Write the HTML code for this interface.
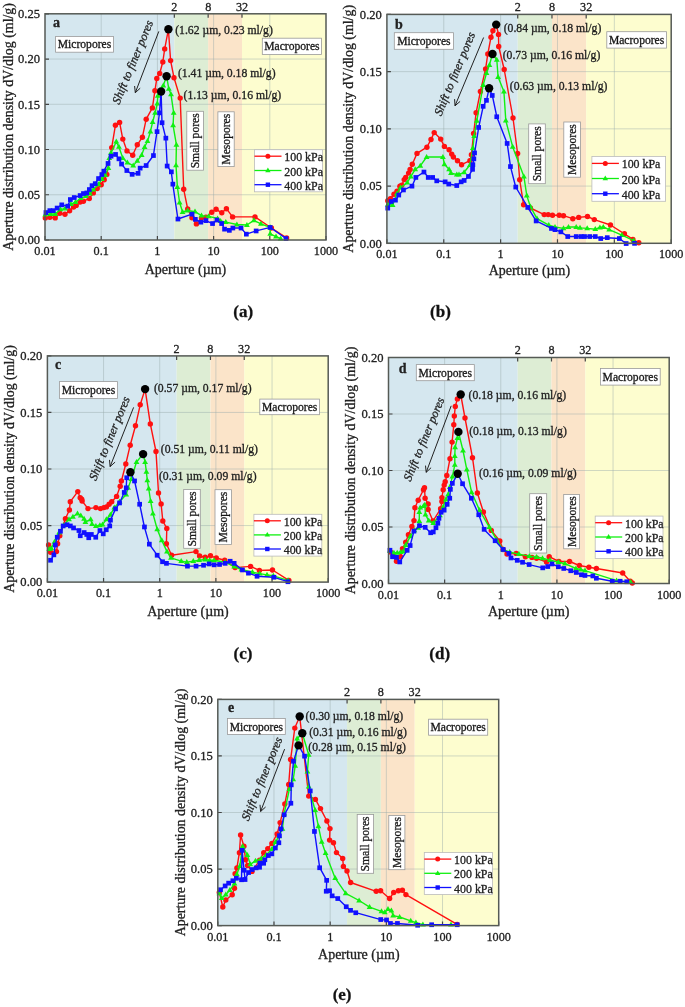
<!DOCTYPE html>
<html><head><meta charset="utf-8"><style>
html,body{margin:0;padding:0;background:#fff;}
svg{display:block;font-family:"Liberation Serif", serif;filter:blur(0.5px);}
text{stroke:#222;stroke-width:0.3px;}
</style></head><body>
<svg width="685" height="1007" viewBox="0 0 685 1007">
<rect x="45.00" y="13.8" width="129.32" height="226.2" fill="#d5e7ef"/>
<rect x="174.32" y="13.8" width="33.84" height="226.2" fill="#ddedd4"/>
<rect x="208.15" y="13.8" width="33.84" height="226.2" fill="#fbe4c9"/>
<rect x="241.99" y="13.8" width="84.01" height="226.2" fill="#fdfdcf"/>
<path d="M101.20,13.8V240.0M157.40,13.8V240.0M213.60,13.8V240.0M269.80,13.8V240.0M45.0,194.76H326.0M45.0,149.52H326.0M45.0,104.28H326.0M45.0,59.04H326.0" stroke="#9aa" stroke-opacity="0.45" stroke-width="1" fill="none"/>
<path d="M45.0,240.00h4M45.0,194.76h4M45.0,149.52h4M45.0,104.28h4M45.0,59.04h4M45.0,13.80h4M45.00,240.0v-4M101.20,240.0v-4M157.40,240.0v-4M213.60,240.0v-4M269.80,240.0v-4M326.00,240.0v-4M174.32,13.8v4M208.15,13.8v4M241.99,13.8v4" stroke="#444" stroke-width="1.2" fill="none"/>
<path d="M45.3,217.9 L49.9,217.2 L55.2,217.9 L59.8,213.3 L65.0,214.3 L69.6,210.7 L73.6,207.0 L76.2,205.4 L80.1,202.1 L83.4,201.2 L89.3,198.6 L93.3,192.9 L97.2,188.6 L101.2,184.7 L104.2,179.8 L106.8,174.5 L111.7,147.6 L115.4,125.3 L119.6,122.4 L122.8,139.1 L127.0,150.9 L132.7,155.2 L137.3,144.8 L142.4,137.2 L146.2,119.2 L152.4,107.9 L154.9,90.8 L156.8,78.4 L159.7,73.5 L162.8,62.0 L164.7,48.9 L168.4,29.3 L170.6,60.6 L174.0,77.7 L180.2,98.1 L183.7,189.3 L187.7,209.0 L192.0,217.8 L196.4,223.9 L201.5,218.1 L205.9,217.1 L211.8,212.3 L216.1,209.3 L221.8,212.8 L226.4,208.7 L232.6,216.9 L255.0,216.9 L271.4,228.0 L286.6,237.9" stroke="#ff1010" stroke-width="1.4" fill="none" stroke-linejoin="round"/>
<g fill="#ff1010"><circle cx="45.3" cy="217.9" r="2.7"/><circle cx="49.9" cy="217.2" r="2.7"/><circle cx="55.2" cy="217.9" r="2.7"/><circle cx="59.8" cy="213.3" r="2.7"/><circle cx="65.0" cy="214.3" r="2.7"/><circle cx="69.6" cy="210.7" r="2.7"/><circle cx="73.6" cy="207.0" r="2.7"/><circle cx="76.2" cy="205.4" r="2.7"/><circle cx="80.1" cy="202.1" r="2.7"/><circle cx="83.4" cy="201.2" r="2.7"/><circle cx="89.3" cy="198.6" r="2.7"/><circle cx="93.3" cy="192.9" r="2.7"/><circle cx="97.2" cy="188.6" r="2.7"/><circle cx="101.2" cy="184.7" r="2.7"/><circle cx="104.2" cy="179.8" r="2.7"/><circle cx="106.8" cy="174.5" r="2.7"/><circle cx="111.7" cy="147.6" r="2.7"/><circle cx="115.4" cy="125.3" r="2.7"/><circle cx="119.6" cy="122.4" r="2.7"/><circle cx="122.8" cy="139.1" r="2.7"/><circle cx="127.0" cy="150.9" r="2.7"/><circle cx="132.7" cy="155.2" r="2.7"/><circle cx="137.3" cy="144.8" r="2.7"/><circle cx="142.4" cy="137.2" r="2.7"/><circle cx="146.2" cy="119.2" r="2.7"/><circle cx="152.4" cy="107.9" r="2.7"/><circle cx="154.9" cy="90.8" r="2.7"/><circle cx="156.8" cy="78.4" r="2.7"/><circle cx="159.7" cy="73.5" r="2.7"/><circle cx="162.8" cy="62.0" r="2.7"/><circle cx="164.7" cy="48.9" r="2.7"/><circle cx="168.4" cy="29.3" r="2.7"/><circle cx="170.6" cy="60.6" r="2.7"/><circle cx="174.0" cy="77.7" r="2.7"/><circle cx="180.2" cy="98.1" r="2.7"/><circle cx="183.7" cy="189.3" r="2.7"/><circle cx="187.7" cy="209.0" r="2.7"/><circle cx="192.0" cy="217.8" r="2.7"/><circle cx="196.4" cy="223.9" r="2.7"/><circle cx="201.5" cy="218.1" r="2.7"/><circle cx="205.9" cy="217.1" r="2.7"/><circle cx="211.8" cy="212.3" r="2.7"/><circle cx="216.1" cy="209.3" r="2.7"/><circle cx="221.8" cy="212.8" r="2.7"/><circle cx="226.4" cy="208.7" r="2.7"/><circle cx="232.6" cy="216.9" r="2.7"/><circle cx="255.0" cy="216.9" r="2.7"/><circle cx="271.4" cy="228.0" r="2.7"/><circle cx="286.6" cy="237.9" r="2.7"/></g>
<path d="M45.3,214.6 L50.6,214.0 L55.2,214.0 L60.4,209.4 L65.0,208.7 L70.9,204.1 L75.5,202.1 L80.8,198.2 L86.0,196.2 L90.0,193.6 L93.3,189.6 L98.5,184.4 L101.8,179.1 L105.1,175.2 L108.4,168.0 L109.3,158.1 L111.0,152.9 L116.3,141.7 L118.9,146.9 L122.8,158.1 L127.4,162.7 L133.2,165.6 L137.3,160.9 L141.7,155.0 L144.6,147.0 L147.5,141.2 L150.4,131.7 L152.6,122.2 L155.1,112.8 L157.3,103.5 L157.8,95.9 L163.3,85.5 L166.6,76.2 L168.8,88.8 L171.0,94.3 L173.7,112.8 L173.1,125.4 L176.4,144.8 L176.0,165.3 L177.4,187.2 L179.6,202.5 L182.6,212.0 L187.7,210.5 L195.0,211.7 L201.5,215.6 L208.8,216.4 L217.6,218.5 L220.6,221.0 L225.8,222.1 L236.9,224.5 L246.9,225.0 L253.9,220.4 L260.9,223.9 L270.2,227.4 L270.2,233.8 L276.0,236.7 L280.7,238.5" stroke="#10f010" stroke-width="1.4" fill="none" stroke-linejoin="round"/>
<g fill="#10f010"><path d="M45.3,211.5l2.9,5h-5.8z"/><path d="M50.6,210.9l2.9,5h-5.8z"/><path d="M55.2,210.9l2.9,5h-5.8z"/><path d="M60.4,206.3l2.9,5h-5.8z"/><path d="M65.0,205.6l2.9,5h-5.8z"/><path d="M70.9,201.0l2.9,5h-5.8z"/><path d="M75.5,199.0l2.9,5h-5.8z"/><path d="M80.8,195.1l2.9,5h-5.8z"/><path d="M86.0,193.1l2.9,5h-5.8z"/><path d="M90.0,190.5l2.9,5h-5.8z"/><path d="M93.3,186.5l2.9,5h-5.8z"/><path d="M98.5,181.3l2.9,5h-5.8z"/><path d="M101.8,176.0l2.9,5h-5.8z"/><path d="M105.1,172.1l2.9,5h-5.8z"/><path d="M108.4,164.9l2.9,5h-5.8z"/><path d="M109.3,155.0l2.9,5h-5.8z"/><path d="M111.0,149.8l2.9,5h-5.8z"/><path d="M116.3,138.6l2.9,5h-5.8z"/><path d="M118.9,143.8l2.9,5h-5.8z"/><path d="M122.8,155.0l2.9,5h-5.8z"/><path d="M127.4,159.6l2.9,5h-5.8z"/><path d="M133.2,162.5l2.9,5h-5.8z"/><path d="M137.3,157.8l2.9,5h-5.8z"/><path d="M141.7,151.9l2.9,5h-5.8z"/><path d="M144.6,143.9l2.9,5h-5.8z"/><path d="M147.5,138.1l2.9,5h-5.8z"/><path d="M150.4,128.6l2.9,5h-5.8z"/><path d="M152.6,119.1l2.9,5h-5.8z"/><path d="M155.1,109.7l2.9,5h-5.8z"/><path d="M157.3,100.4l2.9,5h-5.8z"/><path d="M157.8,92.8l2.9,5h-5.8z"/><path d="M163.3,82.4l2.9,5h-5.8z"/><path d="M166.6,73.1l2.9,5h-5.8z"/><path d="M168.8,85.7l2.9,5h-5.8z"/><path d="M171.0,91.2l2.9,5h-5.8z"/><path d="M173.7,109.7l2.9,5h-5.8z"/><path d="M173.1,122.3l2.9,5h-5.8z"/><path d="M176.4,141.7l2.9,5h-5.8z"/><path d="M176.0,162.2l2.9,5h-5.8z"/><path d="M177.4,184.1l2.9,5h-5.8z"/><path d="M179.6,199.4l2.9,5h-5.8z"/><path d="M182.6,208.9l2.9,5h-5.8z"/><path d="M187.7,207.4l2.9,5h-5.8z"/><path d="M195.0,208.6l2.9,5h-5.8z"/><path d="M201.5,212.5l2.9,5h-5.8z"/><path d="M208.8,213.3l2.9,5h-5.8z"/><path d="M217.6,215.4l2.9,5h-5.8z"/><path d="M220.6,217.9l2.9,5h-5.8z"/><path d="M225.8,219.0l2.9,5h-5.8z"/><path d="M236.9,221.4l2.9,5h-5.8z"/><path d="M246.9,221.9l2.9,5h-5.8z"/><path d="M253.9,217.3l2.9,5h-5.8z"/><path d="M260.9,220.8l2.9,5h-5.8z"/><path d="M270.2,224.3l2.9,5h-5.8z"/><path d="M270.2,230.7l2.9,5h-5.8z"/><path d="M276.0,233.6l2.9,5h-5.8z"/><path d="M280.7,235.4l2.9,5h-5.8z"/></g>
<path d="M46.0,212.6 L49.9,210.7 L53.2,210.7 L57.1,208.0 L61.7,204.8 L67.7,206.1 L70.3,199.5 L74.2,197.5 L80.1,195.6 L83.4,193.6 L86.7,192.9 L89.3,189.6 L92.0,185.7 L95.2,183.7 L98.5,178.5 L101.8,174.5 L103.8,171.2 L108.0,163.4 L111.0,156.1 L115.6,154.4 L118.9,158.8 L121.5,164.0 L126.8,170.6 L132.2,174.3 L138.0,173.3 L140.2,168.2 L146.1,165.5 L153.4,155.5 L157.0,131.7 L159.5,112.8 L161.1,91.5 L162.0,122.7 L165.8,138.2 L167.2,166.0 L171.3,171.8 L172.8,184.2 L177.9,219.0 L192.0,214.2 L195.3,219.3 L200.8,222.2 L205.9,220.7 L212.5,223.6 L216.9,220.0 L221.7,223.6 L224.6,229.2 L229.3,230.3 L232.8,228.0 L241.0,228.0 L246.3,234.1 L256.2,230.9 L270.2,227.4 L286.0,238.5" stroke="#1010ff" stroke-width="1.4" fill="none" stroke-linejoin="round"/>
<g fill="#1010ff"><rect x="43.6" y="210.2" width="4.7" height="4.7"/><rect x="47.5" y="208.3" width="4.7" height="4.7"/><rect x="50.9" y="208.3" width="4.7" height="4.7"/><rect x="54.8" y="205.7" width="4.7" height="4.7"/><rect x="59.4" y="202.5" width="4.7" height="4.7"/><rect x="65.4" y="203.8" width="4.7" height="4.7"/><rect x="68.0" y="197.2" width="4.7" height="4.7"/><rect x="71.9" y="195.2" width="4.7" height="4.7"/><rect x="77.8" y="193.2" width="4.7" height="4.7"/><rect x="81.1" y="191.2" width="4.7" height="4.7"/><rect x="84.4" y="190.6" width="4.7" height="4.7"/><rect x="87.0" y="187.2" width="4.7" height="4.7"/><rect x="89.7" y="183.3" width="4.7" height="4.7"/><rect x="92.9" y="181.3" width="4.7" height="4.7"/><rect x="96.2" y="176.2" width="4.7" height="4.7"/><rect x="99.5" y="172.2" width="4.7" height="4.7"/><rect x="101.5" y="168.8" width="4.7" height="4.7"/><rect x="105.7" y="161.1" width="4.7" height="4.7"/><rect x="108.7" y="153.8" width="4.7" height="4.7"/><rect x="113.2" y="152.1" width="4.7" height="4.7"/><rect x="116.6" y="156.5" width="4.7" height="4.7"/><rect x="119.2" y="161.7" width="4.7" height="4.7"/><rect x="124.5" y="168.2" width="4.7" height="4.7"/><rect x="129.8" y="172.0" width="4.7" height="4.7"/><rect x="135.7" y="171.0" width="4.7" height="4.7"/><rect x="137.8" y="165.8" width="4.7" height="4.7"/><rect x="143.8" y="163.2" width="4.7" height="4.7"/><rect x="151.1" y="153.2" width="4.7" height="4.7"/><rect x="154.7" y="129.3" width="4.7" height="4.7"/><rect x="157.2" y="110.5" width="4.7" height="4.7"/><rect x="158.8" y="89.2" width="4.7" height="4.7"/><rect x="159.7" y="120.4" width="4.7" height="4.7"/><rect x="163.5" y="135.8" width="4.7" height="4.7"/><rect x="164.8" y="163.7" width="4.7" height="4.7"/><rect x="169.0" y="169.5" width="4.7" height="4.7"/><rect x="170.5" y="181.8" width="4.7" height="4.7"/><rect x="175.6" y="216.7" width="4.7" height="4.7"/><rect x="189.7" y="211.8" width="4.7" height="4.7"/><rect x="193.0" y="217.0" width="4.7" height="4.7"/><rect x="198.5" y="219.8" width="4.7" height="4.7"/><rect x="203.6" y="218.3" width="4.7" height="4.7"/><rect x="210.2" y="221.2" width="4.7" height="4.7"/><rect x="214.6" y="217.7" width="4.7" height="4.7"/><rect x="219.3" y="221.2" width="4.7" height="4.7"/><rect x="222.2" y="226.8" width="4.7" height="4.7"/><rect x="227.0" y="228.0" width="4.7" height="4.7"/><rect x="230.5" y="225.7" width="4.7" height="4.7"/><rect x="238.7" y="225.7" width="4.7" height="4.7"/><rect x="244.0" y="231.8" width="4.7" height="4.7"/><rect x="253.8" y="228.6" width="4.7" height="4.7"/><rect x="267.8" y="225.1" width="4.7" height="4.7"/><rect x="283.6" y="236.2" width="4.7" height="4.7"/></g>
<rect x="45.0" y="13.8" width="281.0" height="226.2" fill="none" stroke="#555a55" stroke-width="1.5"/>
<circle cx="168.4" cy="29.3" r="4.2" fill="#000"/>
<circle cx="166.6" cy="76.2" r="4.2" fill="#000"/>
<circle cx="161.1" cy="91.5" r="4.2" fill="#000"/>
<text x="175.2" y="33.9" font-size="11.7" fill="#222">(1.62 µm, 0.23 ml/g)</text>
<text x="177.9" y="76.9" font-size="11.7" fill="#222">(1.41 µm, 0.18 ml/g)</text>
<text x="183.6" y="98.8" font-size="11.7" fill="#222">(1.13 µm, 0.16 ml/g)</text>
<rect x="55.6" y="36.4" width="57.8" height="15.8" fill="#fff" stroke="#999" stroke-width="0.8"/>
<text x="84.5" y="48.3" text-anchor="middle" font-size="11.6" fill="#111">Micropores</text>
<rect x="262.3" y="38.2" width="59.1" height="16.3" fill="#fff" stroke="#999" stroke-width="0.8"/>
<text x="291.9" y="50.4" text-anchor="middle" font-size="11.6" fill="#111">Macropores</text>
<rect x="186.8" y="111.3" width="16.6" height="58.9" fill="#fff" stroke="#999" stroke-width="0.8"/>
<text x="0" y="0" transform="translate(199.1,140.8) rotate(-90)" text-anchor="middle" font-size="11.6" fill="#111">Small pores</text>
<rect x="217.9" y="111.8" width="16.3" height="54.8" fill="#fff" stroke="#999" stroke-width="0.8"/>
<text x="0" y="0" transform="translate(230.1,139.2) rotate(-90)" text-anchor="middle" font-size="11.6" fill="#111">Mesopores</text>
<rect x="254.5" y="149.7" width="68" height="42.1" fill="#fff" stroke="#bbb" stroke-width="0.8"/>
<path d="M254.5,156.2H281.5" stroke="#ff1010" stroke-width="1.3"/>
<circle cx="267.9" cy="156.2" r="2.5" fill="#ff1010"/>
<text x="284.3" y="161.2" font-size="11.9" fill="#222">100 kPa</text>
<path d="M254.5,170.5H281.5" stroke="#10f010" stroke-width="1.3"/>
<path d="M267.9,167.6l2.7,4.6h-5.4z" fill="#10f010"/>
<text x="284.3" y="175.5" font-size="11.9" fill="#222">200 kPa</text>
<path d="M254.5,184.7H281.5" stroke="#1010ff" stroke-width="1.3"/>
<rect x="265.7" y="182.5" width="4.4" height="4.4" fill="#1010ff"/>
<text x="284.3" y="189.7" font-size="11.9" fill="#222">400 kPa</text>
<path d="M158.8,31.4L135.3,92.7M140.2,88.2L135.3,92.7L134.6,86.0" stroke="#222" stroke-width="1" fill="none"/>
<text x="0" y="0" transform="translate(136.3,63.7) rotate(-67.5)" text-anchor="middle" font-size="12" font-style="italic" fill="#222">Shift to finer pores</text>
<text x="52.9" y="26.8" font-size="14" font-weight="bold" fill="#222">a</text>
<text x="40.0" y="244.3" text-anchor="end" font-size="12.6" fill="#222">0.00</text>
<text x="40.0" y="199.1" text-anchor="end" font-size="12.6" fill="#222">0.05</text>
<text x="40.0" y="153.8" text-anchor="end" font-size="12.6" fill="#222">0.10</text>
<text x="40.0" y="108.6" text-anchor="end" font-size="12.6" fill="#222">0.15</text>
<text x="40.0" y="63.3" text-anchor="end" font-size="12.6" fill="#222">0.20</text>
<text x="40.0" y="18.1" text-anchor="end" font-size="12.6" fill="#222">0.25</text>
<text x="45.0" y="255.0" text-anchor="middle" font-size="12.2" fill="#222">0.01</text>
<text x="101.2" y="255.0" text-anchor="middle" font-size="12.2" fill="#222">0.1</text>
<text x="157.4" y="255.0" text-anchor="middle" font-size="12.2" fill="#222">1</text>
<text x="213.6" y="255.0" text-anchor="middle" font-size="12.2" fill="#222">10</text>
<text x="269.8" y="255.0" text-anchor="middle" font-size="12.2" fill="#222">100</text>
<text x="326.0" y="255.0" text-anchor="middle" font-size="12.2" fill="#222">1000</text>
<text x="174.3" y="10.6" text-anchor="middle" font-size="12.2" fill="#222">2</text>
<text x="208.2" y="10.6" text-anchor="middle" font-size="12.2" fill="#222">8</text>
<text x="242.0" y="10.6" text-anchor="middle" font-size="12.2" fill="#222">32</text>
<text x="0" y="0" transform="translate(13,126.9) rotate(-90)" text-anchor="middle" font-size="13.9" fill="#222">Aperture distribution density dV/dlog (ml/g)</text>
<text x="185.5" y="274.4" text-anchor="middle" font-size="14" fill="#222">Aperture (µm)</text>
<text x="243.2" y="316.5" text-anchor="middle" font-size="17" font-weight="bold" fill="#111">(a)</text>
<rect x="386.90" y="14.4" width="130.84" height="228.9" fill="#d5e7ef"/>
<rect x="517.74" y="14.4" width="34.23" height="228.9" fill="#ddedd4"/>
<rect x="551.97" y="14.4" width="34.23" height="228.9" fill="#fbe4c9"/>
<rect x="586.20" y="14.4" width="85.00" height="228.9" fill="#fdfdcf"/>
<path d="M443.76,14.4V243.3M500.62,14.4V243.3M557.48,14.4V243.3M614.34,14.4V243.3M386.9,186.08H671.2M386.9,128.85H671.2M386.9,71.63H671.2" stroke="#9aa" stroke-opacity="0.45" stroke-width="1" fill="none"/>
<path d="M386.9,243.30h4M386.9,186.08h4M386.9,128.85h4M386.9,71.63h4M386.9,14.40h4M386.90,243.3v-4M443.76,243.3v-4M500.62,243.3v-4M557.48,243.3v-4M614.34,243.3v-4M671.20,243.3v-4M517.74,14.4v4M551.97,14.4v4M586.20,14.4v4" stroke="#444" stroke-width="1.2" fill="none"/>
<path d="M387.8,200.8 L390.4,198.6 L394.0,194.2 L397.0,191.3 L399.9,186.2 L401.8,185.2 L404.2,179.6 L405.7,177.4 L408.6,173.1 L410.1,169.4 L412.3,164.3 L417.0,153.4 L426.9,147.2 L431.0,139.5 L434.2,132.6 L440.7,139.1 L444.4,146.4 L449.1,149.7 L451.7,154.1 L453.4,157.0 L457.5,160.7 L461.6,164.7 L469.9,160.7 L471.4,154.8 L473.6,133.5 L476.1,112.8 L480.4,91.5 L485.6,68.9 L487.8,54.0 L491.0,37.2 L492.9,30.8 L496.2,24.6 L498.5,34.4 L498.7,46.5 L504.2,69.5 L513.0,118.0 L517.6,153.5 L519.7,179.8 L523.6,204.8 L530.4,208.0 L544.2,214.6 L548.2,214.6 L552.5,215.3 L559.2,215.2 L563.5,215.7 L572.8,218.7 L578.7,217.4 L587.5,216.5 L594.3,219.6 L610.5,225.0 L624.4,233.8 L632.9,239.4 L638.8,242.8" stroke="#ff1010" stroke-width="1.4" fill="none" stroke-linejoin="round"/>
<g fill="#ff1010"><circle cx="387.8" cy="200.8" r="2.7"/><circle cx="390.4" cy="198.6" r="2.7"/><circle cx="394.0" cy="194.2" r="2.7"/><circle cx="397.0" cy="191.3" r="2.7"/><circle cx="399.9" cy="186.2" r="2.7"/><circle cx="401.8" cy="185.2" r="2.7"/><circle cx="404.2" cy="179.6" r="2.7"/><circle cx="405.7" cy="177.4" r="2.7"/><circle cx="408.6" cy="173.1" r="2.7"/><circle cx="410.1" cy="169.4" r="2.7"/><circle cx="412.3" cy="164.3" r="2.7"/><circle cx="417.0" cy="153.4" r="2.7"/><circle cx="426.9" cy="147.2" r="2.7"/><circle cx="431.0" cy="139.5" r="2.7"/><circle cx="434.2" cy="132.6" r="2.7"/><circle cx="440.7" cy="139.1" r="2.7"/><circle cx="444.4" cy="146.4" r="2.7"/><circle cx="449.1" cy="149.7" r="2.7"/><circle cx="451.7" cy="154.1" r="2.7"/><circle cx="453.4" cy="157.0" r="2.7"/><circle cx="457.5" cy="160.7" r="2.7"/><circle cx="461.6" cy="164.7" r="2.7"/><circle cx="469.9" cy="160.7" r="2.7"/><circle cx="471.4" cy="154.8" r="2.7"/><circle cx="473.6" cy="133.5" r="2.7"/><circle cx="476.1" cy="112.8" r="2.7"/><circle cx="480.4" cy="91.5" r="2.7"/><circle cx="485.6" cy="68.9" r="2.7"/><circle cx="487.8" cy="54.0" r="2.7"/><circle cx="491.0" cy="37.2" r="2.7"/><circle cx="492.9" cy="30.8" r="2.7"/><circle cx="496.2" cy="24.6" r="2.7"/><circle cx="498.5" cy="34.4" r="2.7"/><circle cx="498.7" cy="46.5" r="2.7"/><circle cx="504.2" cy="69.5" r="2.7"/><circle cx="513.0" cy="118.0" r="2.7"/><circle cx="517.6" cy="153.5" r="2.7"/><circle cx="519.7" cy="179.8" r="2.7"/><circle cx="523.6" cy="204.8" r="2.7"/><circle cx="530.4" cy="208.0" r="2.7"/><circle cx="544.2" cy="214.6" r="2.7"/><circle cx="548.2" cy="214.6" r="2.7"/><circle cx="552.5" cy="215.3" r="2.7"/><circle cx="559.2" cy="215.2" r="2.7"/><circle cx="563.5" cy="215.7" r="2.7"/><circle cx="572.8" cy="218.7" r="2.7"/><circle cx="578.7" cy="217.4" r="2.7"/><circle cx="587.5" cy="216.5" r="2.7"/><circle cx="594.3" cy="219.6" r="2.7"/><circle cx="610.5" cy="225.0" r="2.7"/><circle cx="624.4" cy="233.8" r="2.7"/><circle cx="632.9" cy="239.4" r="2.7"/><circle cx="638.8" cy="242.8" r="2.7"/></g>
<path d="M387.8,204.5 L392.6,205.2 L397.0,193.5 L400.6,187.7 L407.2,182.6 L410.8,176.7 L415.2,169.4 L420.3,165.8 L426.6,157.0 L442.9,157.0 L444.4,164.3 L449.1,169.4 L451.0,173.1 L456.8,174.5 L459.0,174.5 L464.1,172.3 L469.9,165.0 L472.9,148.2 L474.2,136.0 L476.8,120.9 L483.2,85.0 L486.5,73.2 L489.4,65.0 L492.5,54.0 L496.8,59.8 L498.1,77.0 L503.9,91.5 L505.8,120.5 L512.7,146.9 L523.9,176.5 L526.8,195.6 L530.4,206.7 L537.0,218.6 L548.8,225.1 L555.0,227.0 L563.5,228.4 L568.5,227.0 L576.2,227.0 L580.0,227.9 L587.2,228.4 L595.3,229.2 L599.9,227.5 L603.3,227.0 L609.2,229.7 L621.9,235.2 L633.7,240.6" stroke="#10f010" stroke-width="1.4" fill="none" stroke-linejoin="round"/>
<g fill="#10f010"><path d="M387.8,201.4l2.9,5h-5.8z"/><path d="M392.6,202.1l2.9,5h-5.8z"/><path d="M397.0,190.4l2.9,5h-5.8z"/><path d="M400.6,184.6l2.9,5h-5.8z"/><path d="M407.2,179.5l2.9,5h-5.8z"/><path d="M410.8,173.6l2.9,5h-5.8z"/><path d="M415.2,166.3l2.9,5h-5.8z"/><path d="M420.3,162.7l2.9,5h-5.8z"/><path d="M426.6,153.9l2.9,5h-5.8z"/><path d="M442.9,153.9l2.9,5h-5.8z"/><path d="M444.4,161.2l2.9,5h-5.8z"/><path d="M449.1,166.3l2.9,5h-5.8z"/><path d="M451.0,170.0l2.9,5h-5.8z"/><path d="M456.8,171.4l2.9,5h-5.8z"/><path d="M459.0,171.4l2.9,5h-5.8z"/><path d="M464.1,169.2l2.9,5h-5.8z"/><path d="M469.9,161.9l2.9,5h-5.8z"/><path d="M472.9,145.1l2.9,5h-5.8z"/><path d="M474.2,132.9l2.9,5h-5.8z"/><path d="M476.8,117.8l2.9,5h-5.8z"/><path d="M483.2,81.9l2.9,5h-5.8z"/><path d="M486.5,70.1l2.9,5h-5.8z"/><path d="M489.4,61.9l2.9,5h-5.8z"/><path d="M492.5,50.9l2.9,5h-5.8z"/><path d="M496.8,56.7l2.9,5h-5.8z"/><path d="M498.1,73.9l2.9,5h-5.8z"/><path d="M503.9,88.4l2.9,5h-5.8z"/><path d="M505.8,117.4l2.9,5h-5.8z"/><path d="M512.7,143.8l2.9,5h-5.8z"/><path d="M523.9,173.4l2.9,5h-5.8z"/><path d="M526.8,192.5l2.9,5h-5.8z"/><path d="M530.4,203.6l2.9,5h-5.8z"/><path d="M537.0,215.5l2.9,5h-5.8z"/><path d="M548.8,222.0l2.9,5h-5.8z"/><path d="M555.0,223.9l2.9,5h-5.8z"/><path d="M563.5,225.3l2.9,5h-5.8z"/><path d="M568.5,223.9l2.9,5h-5.8z"/><path d="M576.2,223.9l2.9,5h-5.8z"/><path d="M580.0,224.8l2.9,5h-5.8z"/><path d="M587.2,225.3l2.9,5h-5.8z"/><path d="M595.3,226.1l2.9,5h-5.8z"/><path d="M599.9,224.4l2.9,5h-5.8z"/><path d="M603.3,223.9l2.9,5h-5.8z"/><path d="M609.2,226.6l2.9,5h-5.8z"/><path d="M621.9,232.1l2.9,5h-5.8z"/><path d="M633.7,237.5l2.9,5h-5.8z"/></g>
<path d="M387.8,208.1 L391.1,201.5 L395.5,200.1 L398.8,195.0 L403.5,189.9 L412.0,186.2 L415.9,177.4 L424.0,172.0 L428.3,177.4 L432.7,177.4 L436.8,180.8 L445.1,181.8 L448.8,184.0 L456.8,185.5 L461.2,181.8 L464.1,180.4 L468.5,176.4 L472.6,169.3 L472.9,164.7 L473.9,158.8 L474.6,152.9 L478.7,127.4 L483.2,106.3 L486.5,100.3 L489.1,88.3 L492.3,95.4 L496.8,116.7 L507.2,143.4 L510.5,166.6 L515.7,187.0 L527.8,207.4 L536.1,220.9 L551.5,228.4 L555.0,229.7 L560.9,231.8 L567.7,236.5 L576.2,236.5 L581.2,236.5 L584.6,236.5 L589.7,236.5 L595.3,236.5 L600.7,238.5 L607.2,237.7 L619.4,238.5 L626.1,243.6 L634.6,243.3" stroke="#1010ff" stroke-width="1.4" fill="none" stroke-linejoin="round"/>
<g fill="#1010ff"><rect x="385.4" y="205.8" width="4.7" height="4.7"/><rect x="388.8" y="199.2" width="4.7" height="4.7"/><rect x="393.1" y="197.8" width="4.7" height="4.7"/><rect x="396.4" y="192.7" width="4.7" height="4.7"/><rect x="401.1" y="187.6" width="4.7" height="4.7"/><rect x="409.6" y="183.8" width="4.7" height="4.7"/><rect x="413.5" y="175.1" width="4.7" height="4.7"/><rect x="421.6" y="169.7" width="4.7" height="4.7"/><rect x="425.9" y="175.1" width="4.7" height="4.7"/><rect x="430.3" y="175.1" width="4.7" height="4.7"/><rect x="434.4" y="178.5" width="4.7" height="4.7"/><rect x="442.8" y="179.5" width="4.7" height="4.7"/><rect x="446.4" y="181.7" width="4.7" height="4.7"/><rect x="454.4" y="183.2" width="4.7" height="4.7"/><rect x="458.8" y="179.5" width="4.7" height="4.7"/><rect x="461.8" y="178.1" width="4.7" height="4.7"/><rect x="466.1" y="174.1" width="4.7" height="4.7"/><rect x="470.2" y="167.0" width="4.7" height="4.7"/><rect x="470.5" y="162.3" width="4.7" height="4.7"/><rect x="471.5" y="156.5" width="4.7" height="4.7"/><rect x="472.2" y="150.6" width="4.7" height="4.7"/><rect x="476.3" y="125.1" width="4.7" height="4.7"/><rect x="480.8" y="104.0" width="4.7" height="4.7"/><rect x="484.1" y="98.0" width="4.7" height="4.7"/><rect x="486.8" y="86.0" width="4.7" height="4.7"/><rect x="489.9" y="93.1" width="4.7" height="4.7"/><rect x="494.4" y="114.4" width="4.7" height="4.7"/><rect x="504.8" y="141.1" width="4.7" height="4.7"/><rect x="508.1" y="164.2" width="4.7" height="4.7"/><rect x="513.4" y="184.7" width="4.7" height="4.7"/><rect x="525.4" y="205.1" width="4.7" height="4.7"/><rect x="533.8" y="218.6" width="4.7" height="4.7"/><rect x="549.1" y="226.1" width="4.7" height="4.7"/><rect x="552.6" y="227.3" width="4.7" height="4.7"/><rect x="558.5" y="229.5" width="4.7" height="4.7"/><rect x="565.4" y="234.2" width="4.7" height="4.7"/><rect x="573.9" y="234.2" width="4.7" height="4.7"/><rect x="578.9" y="234.2" width="4.7" height="4.7"/><rect x="582.2" y="234.2" width="4.7" height="4.7"/><rect x="587.4" y="234.2" width="4.7" height="4.7"/><rect x="592.9" y="234.2" width="4.7" height="4.7"/><rect x="598.4" y="236.2" width="4.7" height="4.7"/><rect x="604.9" y="235.3" width="4.7" height="4.7"/><rect x="617.0" y="236.2" width="4.7" height="4.7"/><rect x="623.8" y="241.2" width="4.7" height="4.7"/><rect x="632.2" y="241.0" width="4.7" height="4.7"/></g>
<rect x="386.9" y="14.4" width="284.30000000000007" height="228.9" fill="none" stroke="#555a55" stroke-width="1.5"/>
<circle cx="496.2" cy="24.6" r="4.2" fill="#000"/>
<circle cx="492.5" cy="54" r="4.2" fill="#000"/>
<circle cx="489.1" cy="88.3" r="4.2" fill="#000"/>
<text x="503.7" y="32.3" font-size="11.7" fill="#222">(0.84 µm, 0.18 ml/g)</text>
<text x="502.7" y="58.6" font-size="11.7" fill="#222">(0.73 µm, 0.16 ml/g)</text>
<text x="509.8" y="89.6" font-size="11.7" fill="#222">(0.63 µm, 0.13 ml/g)</text>
<rect x="394.3" y="32.7" width="59.1" height="16.6" fill="#fff" stroke="#999" stroke-width="0.8"/>
<text x="423.9" y="45.0" text-anchor="middle" font-size="11.6" fill="#111">Micropores</text>
<rect x="606.8" y="31.7" width="59.7" height="16.4" fill="#fff" stroke="#999" stroke-width="0.8"/>
<text x="636.6" y="43.9" text-anchor="middle" font-size="11.6" fill="#111">Macropores</text>
<rect x="528.7" y="123.9" width="16.6" height="59.8" fill="#fff" stroke="#999" stroke-width="0.8"/>
<text x="0" y="0" transform="translate(541.0,153.8) rotate(-90)" text-anchor="middle" font-size="11.6" fill="#111">Small pores</text>
<rect x="563.8" y="122" width="16.6" height="55.2" fill="#fff" stroke="#999" stroke-width="0.8"/>
<text x="0" y="0" transform="translate(576.1,149.6) rotate(-90)" text-anchor="middle" font-size="11.6" fill="#111">Mesopores</text>
<rect x="591.9" y="156.4" width="73.7" height="44.9" fill="#fff" stroke="#bbb" stroke-width="0.8"/>
<path d="M591.9,163.4H618.9" stroke="#ff1010" stroke-width="1.3"/>
<circle cx="605.3" cy="163.4" r="2.5" fill="#ff1010"/>
<text x="621.7" y="168.4" font-size="11.9" fill="#222">100 kPa</text>
<path d="M591.9,178.5H618.9" stroke="#10f010" stroke-width="1.3"/>
<path d="M605.3,175.6l2.7,4.6h-5.4z" fill="#10f010"/>
<text x="621.7" y="183.5" font-size="11.9" fill="#222">200 kPa</text>
<path d="M591.9,193.7H618.9" stroke="#1010ff" stroke-width="1.3"/>
<rect x="603.0999999999999" y="191.5" width="4.4" height="4.4" fill="#1010ff"/>
<text x="621.7" y="198.7" font-size="11.9" fill="#222">400 kPa</text>
<path d="M483.6,37.5L455,105.8M460.1,101.4L455,105.8L454.6,99.1" stroke="#222" stroke-width="1" fill="none"/>
<text x="0" y="0" transform="translate(458.3,75.4) rotate(-67.5)" text-anchor="middle" font-size="12" font-style="italic" fill="#222">Shift to finer pores</text>
<text x="395" y="29.0" font-size="14" font-weight="bold" fill="#222">b</text>
<text x="381.9" y="247.6" text-anchor="end" font-size="12.6" fill="#222">0.00</text>
<text x="381.9" y="190.4" text-anchor="end" font-size="12.6" fill="#222">0.05</text>
<text x="381.9" y="133.2" text-anchor="end" font-size="12.6" fill="#222">0.10</text>
<text x="381.9" y="75.9" text-anchor="end" font-size="12.6" fill="#222">0.15</text>
<text x="381.9" y="18.7" text-anchor="end" font-size="12.6" fill="#222">0.20</text>
<text x="386.9" y="258.3" text-anchor="middle" font-size="12.2" fill="#222">0.01</text>
<text x="443.8" y="258.3" text-anchor="middle" font-size="12.2" fill="#222">0.1</text>
<text x="500.6" y="258.3" text-anchor="middle" font-size="12.2" fill="#222">1</text>
<text x="557.5" y="258.3" text-anchor="middle" font-size="12.2" fill="#222">10</text>
<text x="614.3" y="258.3" text-anchor="middle" font-size="12.2" fill="#222">100</text>
<text x="671.2" y="258.3" text-anchor="middle" font-size="12.2" fill="#222">1000</text>
<text x="517.7" y="11.2" text-anchor="middle" font-size="12.2" fill="#222">2</text>
<text x="552.0" y="11.2" text-anchor="middle" font-size="12.2" fill="#222">8</text>
<text x="586.2" y="11.2" text-anchor="middle" font-size="12.2" fill="#222">32</text>
<text x="0" y="0" transform="translate(353,128.8) rotate(-90)" text-anchor="middle" font-size="13.9" fill="#222">Aperture distribution density dV/dlog (ml/g)</text>
<text x="529.4" y="274.7" text-anchor="middle" font-size="14" fill="#222">Aperture (µm)</text>
<text x="440.5" y="316.6" text-anchor="middle" font-size="17" font-weight="bold" fill="#111">(b)</text>
<rect x="47.40" y="355.9" width="129.23" height="226.20000000000005" fill="#d5e7ef"/>
<rect x="176.63" y="355.9" width="33.81" height="226.20000000000005" fill="#ddedd4"/>
<rect x="210.44" y="355.9" width="33.81" height="226.20000000000005" fill="#fbe4c9"/>
<rect x="244.25" y="355.9" width="83.95" height="226.20000000000005" fill="#fdfdcf"/>
<path d="M103.56,355.9V582.1M159.72,355.9V582.1M215.88,355.9V582.1M272.04,355.9V582.1M47.4,525.55H328.2M47.4,469.00H328.2M47.4,412.45H328.2" stroke="#9aa" stroke-opacity="0.45" stroke-width="1" fill="none"/>
<path d="M47.4,582.10h4M47.4,525.55h4M47.4,469.00h4M47.4,412.45h4M47.4,355.90h4M47.40,582.1v-4M103.56,582.1v-4M159.72,582.1v-4M215.88,582.1v-4M272.04,582.1v-4M328.20,582.1v-4M176.63,355.9v4M210.44,355.9v4M244.25,355.9v4" stroke="#444" stroke-width="1.2" fill="none"/>
<path d="M48.6,545.0 L50.6,552.3 L56.5,551.6 L57.6,543.7 L59.8,535.8 L65.4,518.8 L69.4,510.0 L70.3,501.7 L77.8,491.6 L80.2,497.7 L81.7,499.1 L82.1,501.0 L88.0,508.6 L95.9,507.6 L100.5,508.6 L103.8,507.6 L106.4,506.9 L109.1,504.3 L111.7,501.7 L116.6,496.4 L120.2,486.3 L121.4,481.0 L125.8,464.0 L130.2,445.2 L135.5,425.8 L140.2,404.8 L145.1,389.1 L150.3,423.9 L156.0,451.5 L158.5,492.9 L161.1,503.9 L162.8,521.0 L166.8,528.4 L166.4,543.7 L171.6,555.2 L196.0,551.6 L199.6,556.0 L205.2,557.3 L210.5,555.8 L216.3,558.0 L224.7,560.3 L235.1,567.6 L250.6,566.4 L259.4,570.4 L272.5,570.0 L288.9,580.4" stroke="#ff1010" stroke-width="1.4" fill="none" stroke-linejoin="round"/>
<g fill="#ff1010"><circle cx="48.6" cy="545.0" r="2.7"/><circle cx="50.6" cy="552.3" r="2.7"/><circle cx="56.5" cy="551.6" r="2.7"/><circle cx="57.6" cy="543.7" r="2.7"/><circle cx="59.8" cy="535.8" r="2.7"/><circle cx="65.4" cy="518.8" r="2.7"/><circle cx="69.4" cy="510.0" r="2.7"/><circle cx="70.3" cy="501.7" r="2.7"/><circle cx="77.8" cy="491.6" r="2.7"/><circle cx="80.2" cy="497.7" r="2.7"/><circle cx="81.7" cy="499.1" r="2.7"/><circle cx="82.1" cy="501.0" r="2.7"/><circle cx="88.0" cy="508.6" r="2.7"/><circle cx="95.9" cy="507.6" r="2.7"/><circle cx="100.5" cy="508.6" r="2.7"/><circle cx="103.8" cy="507.6" r="2.7"/><circle cx="106.4" cy="506.9" r="2.7"/><circle cx="109.1" cy="504.3" r="2.7"/><circle cx="111.7" cy="501.7" r="2.7"/><circle cx="116.6" cy="496.4" r="2.7"/><circle cx="120.2" cy="486.3" r="2.7"/><circle cx="121.4" cy="481.0" r="2.7"/><circle cx="125.8" cy="464.0" r="2.7"/><circle cx="130.2" cy="445.2" r="2.7"/><circle cx="135.5" cy="425.8" r="2.7"/><circle cx="140.2" cy="404.8" r="2.7"/><circle cx="145.1" cy="389.1" r="2.7"/><circle cx="150.3" cy="423.9" r="2.7"/><circle cx="156.0" cy="451.5" r="2.7"/><circle cx="158.5" cy="492.9" r="2.7"/><circle cx="161.1" cy="503.9" r="2.7"/><circle cx="162.8" cy="521.0" r="2.7"/><circle cx="166.8" cy="528.4" r="2.7"/><circle cx="166.4" cy="543.7" r="2.7"/><circle cx="171.6" cy="555.2" r="2.7"/><circle cx="196.0" cy="551.6" r="2.7"/><circle cx="199.6" cy="556.0" r="2.7"/><circle cx="205.2" cy="557.3" r="2.7"/><circle cx="210.5" cy="555.8" r="2.7"/><circle cx="216.3" cy="558.0" r="2.7"/><circle cx="224.7" cy="560.3" r="2.7"/><circle cx="235.1" cy="567.6" r="2.7"/><circle cx="250.6" cy="566.4" r="2.7"/><circle cx="259.4" cy="570.4" r="2.7"/><circle cx="272.5" cy="570.0" r="2.7"/><circle cx="288.9" cy="580.4" r="2.7"/></g>
<path d="M49.3,549.0 L51.3,548.3 L54.5,541.8 L59.1,532.6 L63.7,525.3 L69.0,519.4 L72.9,516.8 L77.5,513.5 L80.8,515.5 L84.1,518.8 L85.4,522.0 L90.7,519.4 L92.0,524.0 L95.9,526.0 L99.9,525.3 L102.5,524.7 L106.4,519.4 L110.4,514.8 L114.3,507.6 L119.6,501.7 L126.2,494.5 L128.1,487.9 L131.3,479.1 L136.5,462.0 L143.1,454.1 L145.1,462.0 L146.4,471.8 L147.3,480.4 L148.7,488.5 L150.6,501.0 L152.9,513.5 L157.2,529.3 L161.8,540.4 L167.0,551.6 L171.0,557.8 L181.2,561.2 L186.8,562.1 L193.3,561.2 L199.2,560.2 L205.2,559.5 L209.6,560.3 L214.1,560.3 L225.1,562.2 L234.2,566.7 L241.5,569.5 L252.4,572.2 L259.7,573.6 L267.0,574.9 L273.4,575.8 L288.0,580.4" stroke="#10f010" stroke-width="1.4" fill="none" stroke-linejoin="round"/>
<g fill="#10f010"><path d="M49.3,545.9l2.9,5h-5.8z"/><path d="M51.3,545.2l2.9,5h-5.8z"/><path d="M54.5,538.7l2.9,5h-5.8z"/><path d="M59.1,529.5l2.9,5h-5.8z"/><path d="M63.7,522.2l2.9,5h-5.8z"/><path d="M69.0,516.3l2.9,5h-5.8z"/><path d="M72.9,513.7l2.9,5h-5.8z"/><path d="M77.5,510.4l2.9,5h-5.8z"/><path d="M80.8,512.4l2.9,5h-5.8z"/><path d="M84.1,515.7l2.9,5h-5.8z"/><path d="M85.4,518.9l2.9,5h-5.8z"/><path d="M90.7,516.3l2.9,5h-5.8z"/><path d="M92.0,520.9l2.9,5h-5.8z"/><path d="M95.9,522.9l2.9,5h-5.8z"/><path d="M99.9,522.2l2.9,5h-5.8z"/><path d="M102.5,521.6l2.9,5h-5.8z"/><path d="M106.4,516.3l2.9,5h-5.8z"/><path d="M110.4,511.7l2.9,5h-5.8z"/><path d="M114.3,504.5l2.9,5h-5.8z"/><path d="M119.6,498.6l2.9,5h-5.8z"/><path d="M126.2,491.4l2.9,5h-5.8z"/><path d="M128.1,484.8l2.9,5h-5.8z"/><path d="M131.3,476.0l2.9,5h-5.8z"/><path d="M136.5,458.9l2.9,5h-5.8z"/><path d="M143.1,451.0l2.9,5h-5.8z"/><path d="M145.1,458.9l2.9,5h-5.8z"/><path d="M146.4,468.7l2.9,5h-5.8z"/><path d="M147.3,477.3l2.9,5h-5.8z"/><path d="M148.7,485.4l2.9,5h-5.8z"/><path d="M150.6,497.9l2.9,5h-5.8z"/><path d="M152.9,510.4l2.9,5h-5.8z"/><path d="M157.2,526.2l2.9,5h-5.8z"/><path d="M161.8,537.3l2.9,5h-5.8z"/><path d="M167.0,548.5l2.9,5h-5.8z"/><path d="M171.0,554.7l2.9,5h-5.8z"/><path d="M181.2,558.1l2.9,5h-5.8z"/><path d="M186.8,559.0l2.9,5h-5.8z"/><path d="M193.3,558.1l2.9,5h-5.8z"/><path d="M199.2,557.1l2.9,5h-5.8z"/><path d="M205.2,556.4l2.9,5h-5.8z"/><path d="M209.6,557.2l2.9,5h-5.8z"/><path d="M214.1,557.2l2.9,5h-5.8z"/><path d="M225.1,559.1l2.9,5h-5.8z"/><path d="M234.2,563.6l2.9,5h-5.8z"/><path d="M241.5,566.4l2.9,5h-5.8z"/><path d="M252.4,569.1l2.9,5h-5.8z"/><path d="M259.7,570.5l2.9,5h-5.8z"/><path d="M267.0,571.8l2.9,5h-5.8z"/><path d="M273.4,572.7l2.9,5h-5.8z"/><path d="M288.0,577.3l2.9,5h-5.8z"/></g>
<path d="M50.6,560.2 L53.9,554.9 L55.2,545.0 L57.2,537.2 L60.5,531.2 L63.1,526.0 L67.0,524.7 L70.3,526.0 L73.6,528.0 L78.9,530.6 L80.2,535.8 L84.1,532.6 L86.7,534.5 L88.7,537.8 L91.3,534.5 L95.7,537.2 L99.9,530.6 L103.2,533.9 L106.2,529.7 L109.7,526.0 L110.4,520.1 L115.6,508.9 L119.6,503.0 L124.2,492.5 L126.2,487.9 L126.7,477.8 L130.4,472.2 L134.6,481.0 L139.7,504.3 L144.4,527.0 L149.3,544.1 L157.2,555.2 L162.5,561.7 L166.4,563.4 L187.4,566.1 L196.0,566.1 L203.6,565.2 L209.1,564.0 L214.2,564.9 L219.6,564.5 L225.1,563.4 L230.2,561.2 L234.2,563.4 L242.4,570.0 L248.4,573.1 L257.0,576.2 L274.0,577.3 L288.0,581.7" stroke="#1010ff" stroke-width="1.4" fill="none" stroke-linejoin="round"/>
<g fill="#1010ff"><rect x="48.2" y="557.9" width="4.7" height="4.7"/><rect x="51.5" y="552.5" width="4.7" height="4.7"/><rect x="52.9" y="542.6" width="4.7" height="4.7"/><rect x="54.9" y="534.9" width="4.7" height="4.7"/><rect x="58.1" y="528.9" width="4.7" height="4.7"/><rect x="60.8" y="523.6" width="4.7" height="4.7"/><rect x="64.7" y="522.4" width="4.7" height="4.7"/><rect x="68.0" y="523.6" width="4.7" height="4.7"/><rect x="71.2" y="525.6" width="4.7" height="4.7"/><rect x="76.6" y="528.2" width="4.7" height="4.7"/><rect x="77.9" y="533.4" width="4.7" height="4.7"/><rect x="81.8" y="530.2" width="4.7" height="4.7"/><rect x="84.4" y="532.1" width="4.7" height="4.7"/><rect x="86.4" y="535.4" width="4.7" height="4.7"/><rect x="89.0" y="532.1" width="4.7" height="4.7"/><rect x="93.4" y="534.9" width="4.7" height="4.7"/><rect x="97.6" y="528.2" width="4.7" height="4.7"/><rect x="100.9" y="531.5" width="4.7" height="4.7"/><rect x="103.9" y="527.4" width="4.7" height="4.7"/><rect x="107.4" y="523.6" width="4.7" height="4.7"/><rect x="108.1" y="517.8" width="4.7" height="4.7"/><rect x="113.2" y="506.5" width="4.7" height="4.7"/><rect x="117.2" y="500.6" width="4.7" height="4.7"/><rect x="121.9" y="490.1" width="4.7" height="4.7"/><rect x="123.9" y="485.5" width="4.7" height="4.7"/><rect x="124.4" y="475.4" width="4.7" height="4.7"/><rect x="128.1" y="469.8" width="4.7" height="4.7"/><rect x="132.2" y="478.6" width="4.7" height="4.7"/><rect x="137.3" y="501.9" width="4.7" height="4.7"/><rect x="142.1" y="524.6" width="4.7" height="4.7"/><rect x="147.0" y="541.8" width="4.7" height="4.7"/><rect x="154.8" y="552.9" width="4.7" height="4.7"/><rect x="160.2" y="559.4" width="4.7" height="4.7"/><rect x="164.1" y="561.0" width="4.7" height="4.7"/><rect x="185.1" y="563.8" width="4.7" height="4.7"/><rect x="193.7" y="563.8" width="4.7" height="4.7"/><rect x="201.2" y="562.9" width="4.7" height="4.7"/><rect x="206.8" y="561.6" width="4.7" height="4.7"/><rect x="211.8" y="562.5" width="4.7" height="4.7"/><rect x="217.2" y="562.1" width="4.7" height="4.7"/><rect x="222.8" y="561.0" width="4.7" height="4.7"/><rect x="227.8" y="558.9" width="4.7" height="4.7"/><rect x="231.8" y="561.0" width="4.7" height="4.7"/><rect x="240.1" y="567.6" width="4.7" height="4.7"/><rect x="246.1" y="570.8" width="4.7" height="4.7"/><rect x="254.7" y="573.9" width="4.7" height="4.7"/><rect x="271.6" y="574.9" width="4.7" height="4.7"/><rect x="285.6" y="579.4" width="4.7" height="4.7"/></g>
<rect x="47.4" y="355.9" width="280.8" height="226.20000000000005" fill="none" stroke="#555a55" stroke-width="1.5"/>
<circle cx="145.1" cy="389.1" r="4.2" fill="#000"/>
<circle cx="143.1" cy="454.1" r="4.2" fill="#000"/>
<circle cx="130.4" cy="472.2" r="4.2" fill="#000"/>
<text x="153.9" y="391.7" font-size="11.7" fill="#222">(0.57 µm, 0.17 ml/g)</text>
<text x="160.8" y="453.0" font-size="11.7" fill="#222">(0.51 µm, 0.11 ml/g)</text>
<text x="158.9" y="480.0" font-size="11.7" fill="#222">(0.31 µm, 0.09 ml/g)</text>
<rect x="59.4" y="381.6" width="58.1" height="16.8" fill="#fff" stroke="#999" stroke-width="0.8"/>
<text x="88.5" y="394.0" text-anchor="middle" font-size="11.6" fill="#111">Micropores</text>
<rect x="259.8" y="399.1" width="59.7" height="15.6" fill="#fff" stroke="#999" stroke-width="0.8"/>
<text x="289.7" y="410.9" text-anchor="middle" font-size="11.6" fill="#111">Macropores</text>
<rect x="183.7" y="489.5" width="16.6" height="58.8" fill="#fff" stroke="#999" stroke-width="0.8"/>
<text x="0" y="0" transform="translate(196.0,518.9) rotate(-90)" text-anchor="middle" font-size="11.6" fill="#111">Small pores</text>
<rect x="215" y="489.7" width="16.5" height="54.8" fill="#fff" stroke="#999" stroke-width="0.8"/>
<text x="0" y="0" transform="translate(227.2,517.1) rotate(-90)" text-anchor="middle" font-size="11.6" fill="#111">Mesopores</text>
<rect x="253.9" y="514.3" width="67.9" height="41.8" fill="#fff" stroke="#bbb" stroke-width="0.8"/>
<path d="M253.9,520.8H280.9" stroke="#ff1010" stroke-width="1.3"/>
<circle cx="267.3" cy="520.8" r="2.5" fill="#ff1010"/>
<text x="283.7" y="525.8" font-size="11.9" fill="#222">100 kPa</text>
<path d="M253.9,534.9H280.9" stroke="#10f010" stroke-width="1.3"/>
<path d="M267.3,532.0l2.7,4.6h-5.4z" fill="#10f010"/>
<text x="283.7" y="539.9" font-size="11.9" fill="#222">200 kPa</text>
<path d="M253.9,549.0H280.9" stroke="#1010ff" stroke-width="1.3"/>
<rect x="265.1" y="546.8" width="4.4" height="4.4" fill="#1010ff"/>
<text x="283.7" y="554.0" font-size="11.9" fill="#222">400 kPa</text>
<path d="M133.6,407.4L110.1,466.6M115.1,462.1L110.1,466.6L109.5,459.9" stroke="#222" stroke-width="1" fill="none"/>
<text x="0" y="0" transform="translate(113,440) rotate(-67.5)" text-anchor="middle" font-size="12" font-style="italic" fill="#222">Shift to finer pores</text>
<text x="55.0" y="369.2" font-size="14" font-weight="bold" fill="#222">c</text>
<text x="42.4" y="586.4" text-anchor="end" font-size="12.6" fill="#222">0.00</text>
<text x="42.4" y="529.8" text-anchor="end" font-size="12.6" fill="#222">0.05</text>
<text x="42.4" y="473.3" text-anchor="end" font-size="12.6" fill="#222">0.10</text>
<text x="42.4" y="416.8" text-anchor="end" font-size="12.6" fill="#222">0.15</text>
<text x="42.4" y="360.2" text-anchor="end" font-size="12.6" fill="#222">0.20</text>
<text x="47.4" y="597.1" text-anchor="middle" font-size="12.2" fill="#222">0.01</text>
<text x="103.6" y="597.1" text-anchor="middle" font-size="12.2" fill="#222">0.1</text>
<text x="159.7" y="597.1" text-anchor="middle" font-size="12.2" fill="#222">1</text>
<text x="215.9" y="597.1" text-anchor="middle" font-size="12.2" fill="#222">10</text>
<text x="272.0" y="597.1" text-anchor="middle" font-size="12.2" fill="#222">100</text>
<text x="328.2" y="597.1" text-anchor="middle" font-size="12.2" fill="#222">1000</text>
<text x="176.6" y="352.7" text-anchor="middle" font-size="12.2" fill="#222">2</text>
<text x="210.4" y="352.7" text-anchor="middle" font-size="12.2" fill="#222">8</text>
<text x="244.2" y="352.7" text-anchor="middle" font-size="12.2" fill="#222">32</text>
<text x="0" y="0" transform="translate(14.4,469.0) rotate(-90)" text-anchor="middle" font-size="13.9" fill="#222">Aperture distribution density dV/dlog (ml/g)</text>
<text x="188" y="616.3" text-anchor="middle" font-size="14" fill="#222">Aperture (µm)</text>
<text x="243" y="658.5" text-anchor="middle" font-size="17" font-weight="bold" fill="#111">(c)</text>
<rect x="388.50" y="357.5" width="129.18" height="226.0" fill="#d5e7ef"/>
<rect x="517.68" y="357.5" width="33.80" height="226.0" fill="#ddedd4"/>
<rect x="551.48" y="357.5" width="33.80" height="226.0" fill="#fbe4c9"/>
<rect x="585.28" y="357.5" width="83.92" height="226.0" fill="#fdfdcf"/>
<path d="M444.64,357.5V583.5M500.78,357.5V583.5M556.92,357.5V583.5M613.06,357.5V583.5M388.5,527.00H669.2M388.5,470.50H669.2M388.5,414.00H669.2" stroke="#9aa" stroke-opacity="0.45" stroke-width="1" fill="none"/>
<path d="M388.5,583.50h4M388.5,527.00h4M388.5,470.50h4M388.5,414.00h4M388.5,357.50h4M388.50,583.5v-4M444.64,583.5v-4M500.78,583.5v-4M556.92,583.5v-4M613.06,583.5v-4M669.20,583.5v-4M517.68,357.5v4M551.48,357.5v4M585.28,357.5v4" stroke="#444" stroke-width="1.2" fill="none"/>
<path d="M390.6,552.1 L393.3,555.4 L396.5,561.3 L400.5,556.7 L402.5,548.8 L405.7,542.3 L408.4,534.7 L411.9,526.5 L414.0,520.6 L414.9,507.8 L418.2,500.2 L423.5,489.7 L424.5,487.7 L425.1,498.3 L428.1,503.9 L428.1,509.4 L433.0,521.0 L440.6,508.8 L441.9,501.5 L441.9,497.6 L443.2,489.7 L444.2,485.1 L445.2,481.8 L446.8,475.5 L450.0,458.7 L452.1,442.1 L453.8,424.8 L454.3,416.0 L455.3,406.4 L457.4,398.9 L460.7,394.5 L465.0,418.0 L472.5,457.7 L477.4,493.0 L483.4,512.0 L491.3,530.4 L499.8,541.0 L503.1,549.5 L507.0,554.1 L516.2,553.4 L525.4,556.7 L532.0,557.4 L536.6,558.3 L546.5,562.0 L549.2,556.7 L558.8,561.5 L569.6,561.5 L579.4,565.5 L588.9,567.2 L596.4,568.5 L622.7,573.0 L630.2,581.2 L632.3,583.0" stroke="#ff1010" stroke-width="1.4" fill="none" stroke-linejoin="round"/>
<g fill="#ff1010"><circle cx="390.6" cy="552.1" r="2.7"/><circle cx="393.3" cy="555.4" r="2.7"/><circle cx="396.5" cy="561.3" r="2.7"/><circle cx="400.5" cy="556.7" r="2.7"/><circle cx="402.5" cy="548.8" r="2.7"/><circle cx="405.7" cy="542.3" r="2.7"/><circle cx="408.4" cy="534.7" r="2.7"/><circle cx="411.9" cy="526.5" r="2.7"/><circle cx="414.0" cy="520.6" r="2.7"/><circle cx="414.9" cy="507.8" r="2.7"/><circle cx="418.2" cy="500.2" r="2.7"/><circle cx="423.5" cy="489.7" r="2.7"/><circle cx="424.5" cy="487.7" r="2.7"/><circle cx="425.1" cy="498.3" r="2.7"/><circle cx="428.1" cy="503.9" r="2.7"/><circle cx="428.1" cy="509.4" r="2.7"/><circle cx="433.0" cy="521.0" r="2.7"/><circle cx="440.6" cy="508.8" r="2.7"/><circle cx="441.9" cy="501.5" r="2.7"/><circle cx="441.9" cy="497.6" r="2.7"/><circle cx="443.2" cy="489.7" r="2.7"/><circle cx="444.2" cy="485.1" r="2.7"/><circle cx="445.2" cy="481.8" r="2.7"/><circle cx="446.8" cy="475.5" r="2.7"/><circle cx="450.0" cy="458.7" r="2.7"/><circle cx="452.1" cy="442.1" r="2.7"/><circle cx="453.8" cy="424.8" r="2.7"/><circle cx="454.3" cy="416.0" r="2.7"/><circle cx="455.3" cy="406.4" r="2.7"/><circle cx="457.4" cy="398.9" r="2.7"/><circle cx="460.7" cy="394.5" r="2.7"/><circle cx="465.0" cy="418.0" r="2.7"/><circle cx="472.5" cy="457.7" r="2.7"/><circle cx="477.4" cy="493.0" r="2.7"/><circle cx="483.4" cy="512.0" r="2.7"/><circle cx="491.3" cy="530.4" r="2.7"/><circle cx="499.8" cy="541.0" r="2.7"/><circle cx="503.1" cy="549.5" r="2.7"/><circle cx="507.0" cy="554.1" r="2.7"/><circle cx="516.2" cy="553.4" r="2.7"/><circle cx="525.4" cy="556.7" r="2.7"/><circle cx="532.0" cy="557.4" r="2.7"/><circle cx="536.6" cy="558.3" r="2.7"/><circle cx="546.5" cy="562.0" r="2.7"/><circle cx="549.2" cy="556.7" r="2.7"/><circle cx="558.8" cy="561.5" r="2.7"/><circle cx="569.6" cy="561.5" r="2.7"/><circle cx="579.4" cy="565.5" r="2.7"/><circle cx="588.9" cy="567.2" r="2.7"/><circle cx="596.4" cy="568.5" r="2.7"/><circle cx="622.7" cy="573.0" r="2.7"/><circle cx="630.2" cy="581.2" r="2.7"/><circle cx="632.3" cy="583.0" r="2.7"/></g>
<path d="M390.0,550.8 L393.9,552.8 L397.2,552.8 L400.5,552.1 L403.1,551.7 L405.7,545.2 L410.3,536.4 L414.3,530.4 L418.2,527.8 L419.3,521.2 L419.3,512.0 L420.2,507.5 L423.5,506.1 L424.8,504.8 L425.5,514.7 L428.7,520.6 L433.3,523.2 L439.9,515.3 L443.2,506.8 L445.8,499.6 L448.2,494.3 L449.8,487.1 L452.4,476.6 L454.8,464.8 L454.8,456.1 L455.1,447.4 L457.4,438.2 L458.4,431.9 L463.0,450.5 L466.8,469.7 L471.6,492.3 L479.5,510.1 L489.3,527.2 L496.5,539.6 L503.1,549.5 L509.7,552.1 L518.9,554.1 L529.4,556.1 L536.6,557.0 L542.5,558.3 L550.0,560.2 L558.4,562.0 L564.9,563.7 L575.9,568.5 L580.7,569.5 L585.0,570.7 L616.6,580.7 L630.6,582.1" stroke="#10f010" stroke-width="1.4" fill="none" stroke-linejoin="round"/>
<g fill="#10f010"><path d="M390.0,547.7l2.9,5h-5.8z"/><path d="M393.9,549.7l2.9,5h-5.8z"/><path d="M397.2,549.7l2.9,5h-5.8z"/><path d="M400.5,549.0l2.9,5h-5.8z"/><path d="M403.1,548.6l2.9,5h-5.8z"/><path d="M405.7,542.1l2.9,5h-5.8z"/><path d="M410.3,533.3l2.9,5h-5.8z"/><path d="M414.3,527.3l2.9,5h-5.8z"/><path d="M418.2,524.7l2.9,5h-5.8z"/><path d="M419.3,518.1l2.9,5h-5.8z"/><path d="M419.3,508.9l2.9,5h-5.8z"/><path d="M420.2,504.4l2.9,5h-5.8z"/><path d="M423.5,503.0l2.9,5h-5.8z"/><path d="M424.8,501.7l2.9,5h-5.8z"/><path d="M425.5,511.6l2.9,5h-5.8z"/><path d="M428.7,517.5l2.9,5h-5.8z"/><path d="M433.3,520.1l2.9,5h-5.8z"/><path d="M439.9,512.2l2.9,5h-5.8z"/><path d="M443.2,503.7l2.9,5h-5.8z"/><path d="M445.8,496.5l2.9,5h-5.8z"/><path d="M448.2,491.2l2.9,5h-5.8z"/><path d="M449.8,484.0l2.9,5h-5.8z"/><path d="M452.4,473.5l2.9,5h-5.8z"/><path d="M454.8,461.7l2.9,5h-5.8z"/><path d="M454.8,453.0l2.9,5h-5.8z"/><path d="M455.1,444.3l2.9,5h-5.8z"/><path d="M457.4,435.1l2.9,5h-5.8z"/><path d="M458.4,428.8l2.9,5h-5.8z"/><path d="M463.0,447.4l2.9,5h-5.8z"/><path d="M466.8,466.6l2.9,5h-5.8z"/><path d="M471.6,489.2l2.9,5h-5.8z"/><path d="M479.5,507.0l2.9,5h-5.8z"/><path d="M489.3,524.1l2.9,5h-5.8z"/><path d="M496.5,536.5l2.9,5h-5.8z"/><path d="M503.1,546.4l2.9,5h-5.8z"/><path d="M509.7,549.0l2.9,5h-5.8z"/><path d="M518.9,551.0l2.9,5h-5.8z"/><path d="M529.4,553.0l2.9,5h-5.8z"/><path d="M536.6,553.9l2.9,5h-5.8z"/><path d="M542.5,555.2l2.9,5h-5.8z"/><path d="M550.0,557.1l2.9,5h-5.8z"/><path d="M558.4,558.9l2.9,5h-5.8z"/><path d="M564.9,560.6l2.9,5h-5.8z"/><path d="M575.9,565.4l2.9,5h-5.8z"/><path d="M580.7,566.4l2.9,5h-5.8z"/><path d="M585.0,567.6l2.9,5h-5.8z"/><path d="M616.6,577.6l2.9,5h-5.8z"/><path d="M630.6,579.0l2.9,5h-5.8z"/></g>
<path d="M390.0,550.2 L392.6,556.7 L396.5,557.4 L399.8,562.0 L407.1,550.4 L410.1,545.6 L414.0,531.1 L419.5,525.8 L425.2,527.4 L430.7,532.8 L433.3,532.0 L436.0,527.8 L437.9,523.2 L439.0,518.4 L441.2,512.3 L444.2,510.1 L447.1,504.4 L449.8,498.3 L450.4,489.4 L452.4,483.4 L457.7,473.8 L462.6,483.8 L471.4,498.3 L478.8,514.7 L484.1,529.4 L495.2,540.7 L503.1,549.5 L509.0,553.4 L511.0,558.0 L517.3,560.4 L522.6,562.2 L529.1,564.6 L542.8,567.9 L547.8,566.6 L552.0,564.0 L558.4,566.7 L563.7,568.5 L570.7,570.7 L576.3,572.5 L581.5,574.8 L585.0,575.5 L592.9,576.0 L596.4,578.3 L612.2,581.2 L620.1,581.2 L626.7,581.8" stroke="#1010ff" stroke-width="1.4" fill="none" stroke-linejoin="round"/>
<g fill="#1010ff"><rect x="387.6" y="547.9" width="4.7" height="4.7"/><rect x="390.2" y="554.4" width="4.7" height="4.7"/><rect x="394.1" y="555.0" width="4.7" height="4.7"/><rect x="397.4" y="559.6" width="4.7" height="4.7"/><rect x="404.8" y="548.0" width="4.7" height="4.7"/><rect x="407.8" y="543.2" width="4.7" height="4.7"/><rect x="411.6" y="528.8" width="4.7" height="4.7"/><rect x="417.1" y="523.4" width="4.7" height="4.7"/><rect x="422.8" y="525.0" width="4.7" height="4.7"/><rect x="428.3" y="530.4" width="4.7" height="4.7"/><rect x="430.9" y="529.6" width="4.7" height="4.7"/><rect x="433.6" y="525.4" width="4.7" height="4.7"/><rect x="435.5" y="520.9" width="4.7" height="4.7"/><rect x="436.6" y="516.0" width="4.7" height="4.7"/><rect x="438.8" y="509.9" width="4.7" height="4.7"/><rect x="441.8" y="507.8" width="4.7" height="4.7"/><rect x="444.8" y="502.0" width="4.7" height="4.7"/><rect x="447.4" y="495.9" width="4.7" height="4.7"/><rect x="448.0" y="487.0" width="4.7" height="4.7"/><rect x="450.0" y="481.0" width="4.7" height="4.7"/><rect x="455.3" y="471.4" width="4.7" height="4.7"/><rect x="460.2" y="481.4" width="4.7" height="4.7"/><rect x="469.0" y="495.9" width="4.7" height="4.7"/><rect x="476.4" y="512.4" width="4.7" height="4.7"/><rect x="481.8" y="527.0" width="4.7" height="4.7"/><rect x="492.8" y="538.4" width="4.7" height="4.7"/><rect x="500.8" y="547.1" width="4.7" height="4.7"/><rect x="506.6" y="551.0" width="4.7" height="4.7"/><rect x="508.6" y="555.6" width="4.7" height="4.7"/><rect x="514.9" y="558.0" width="4.7" height="4.7"/><rect x="520.2" y="559.9" width="4.7" height="4.7"/><rect x="526.8" y="562.2" width="4.7" height="4.7"/><rect x="540.4" y="565.5" width="4.7" height="4.7"/><rect x="545.4" y="564.2" width="4.7" height="4.7"/><rect x="549.6" y="561.6" width="4.7" height="4.7"/><rect x="556.0" y="564.4" width="4.7" height="4.7"/><rect x="561.4" y="566.1" width="4.7" height="4.7"/><rect x="568.4" y="568.4" width="4.7" height="4.7"/><rect x="573.9" y="570.1" width="4.7" height="4.7"/><rect x="579.1" y="572.4" width="4.7" height="4.7"/><rect x="582.6" y="573.1" width="4.7" height="4.7"/><rect x="590.5" y="573.6" width="4.7" height="4.7"/><rect x="594.0" y="575.9" width="4.7" height="4.7"/><rect x="609.9" y="578.9" width="4.7" height="4.7"/><rect x="617.8" y="578.9" width="4.7" height="4.7"/><rect x="624.4" y="579.4" width="4.7" height="4.7"/></g>
<rect x="388.5" y="357.5" width="280.70000000000005" height="226.0" fill="none" stroke="#555a55" stroke-width="1.5"/>
<circle cx="460.7" cy="394.5" r="4.2" fill="#000"/>
<circle cx="458.4" cy="431.9" r="4.2" fill="#000"/>
<circle cx="457.7" cy="473.8" r="4.2" fill="#000"/>
<text x="468.6" y="399.1" font-size="11.7" fill="#222">(0.18 µm, 0.16 ml/g)</text>
<text x="469.2" y="434.9" font-size="11.7" fill="#222">(0.18 µm, 0.13 ml/g)</text>
<text x="479" y="476.7" font-size="11.7" fill="#222">(0.16 µm, 0.09 ml/g)</text>
<rect x="416.3" y="364.6" width="58" height="16.1" fill="#fff" stroke="#999" stroke-width="0.8"/>
<text x="445.3" y="376.7" text-anchor="middle" font-size="11.6" fill="#111">Micropores</text>
<rect x="600.4" y="368.5" width="59.8" height="16.6" fill="#fff" stroke="#999" stroke-width="0.8"/>
<text x="630.3" y="380.8" text-anchor="middle" font-size="11.6" fill="#111">Macropores</text>
<rect x="529.7" y="493.7" width="17" height="59.3" fill="#fff" stroke="#999" stroke-width="0.8"/>
<text x="0" y="0" transform="translate(542.2,523.4) rotate(-90)" text-anchor="middle" font-size="11.6" fill="#111">Small pores</text>
<rect x="563.7" y="494.5" width="15.7" height="54.3" fill="#fff" stroke="#999" stroke-width="0.8"/>
<text x="0" y="0" transform="translate(575.6,521.6) rotate(-90)" text-anchor="middle" font-size="11.6" fill="#111">Mesopores</text>
<rect x="595.2" y="516.1" width="67.8" height="42.4" fill="#fff" stroke="#bbb" stroke-width="0.8"/>
<path d="M595.2,522.7H622.2" stroke="#ff1010" stroke-width="1.3"/>
<circle cx="608.6" cy="522.7" r="2.5" fill="#ff1010"/>
<text x="625.0" y="527.7" font-size="11.9" fill="#222">100 kPa</text>
<path d="M595.2,537.0H622.2" stroke="#10f010" stroke-width="1.3"/>
<path d="M608.6,534.1l2.7,4.6h-5.4z" fill="#10f010"/>
<text x="625.0" y="542.0" font-size="11.9" fill="#222">200 kPa</text>
<path d="M595.2,551.3H622.2" stroke="#1010ff" stroke-width="1.3"/>
<rect x="606.4" y="549.1" width="4.4" height="4.4" fill="#1010ff"/>
<text x="625.0" y="556.3" font-size="11.9" fill="#222">400 kPa</text>
<path d="M451.2,405.8L426.2,472.3M431.1,467.7L426.2,472.3L425.5,465.6" stroke="#222" stroke-width="1" fill="none"/>
<text x="0" y="0" transform="translate(427.5,440.7) rotate(-67.5)" text-anchor="middle" font-size="12" font-style="italic" fill="#222">Shift to finer pores</text>
<text x="398.8" y="372.5" font-size="14" font-weight="bold" fill="#222">d</text>
<text x="383.5" y="587.8" text-anchor="end" font-size="12.6" fill="#222">0.00</text>
<text x="383.5" y="531.3" text-anchor="end" font-size="12.6" fill="#222">0.05</text>
<text x="383.5" y="474.8" text-anchor="end" font-size="12.6" fill="#222">0.10</text>
<text x="383.5" y="418.3" text-anchor="end" font-size="12.6" fill="#222">0.15</text>
<text x="383.5" y="361.8" text-anchor="end" font-size="12.6" fill="#222">0.20</text>
<text x="388.5" y="598.5" text-anchor="middle" font-size="12.2" fill="#222">0.01</text>
<text x="444.6" y="598.5" text-anchor="middle" font-size="12.2" fill="#222">0.1</text>
<text x="500.8" y="598.5" text-anchor="middle" font-size="12.2" fill="#222">1</text>
<text x="556.9" y="598.5" text-anchor="middle" font-size="12.2" fill="#222">10</text>
<text x="613.1" y="598.5" text-anchor="middle" font-size="12.2" fill="#222">100</text>
<text x="669.2" y="598.5" text-anchor="middle" font-size="12.2" fill="#222">1000</text>
<text x="517.7" y="354.3" text-anchor="middle" font-size="12.2" fill="#222">2</text>
<text x="551.5" y="354.3" text-anchor="middle" font-size="12.2" fill="#222">8</text>
<text x="585.3" y="354.3" text-anchor="middle" font-size="12.2" fill="#222">32</text>
<text x="0" y="0" transform="translate(355.3,470.5) rotate(-90)" text-anchor="middle" font-size="13.9" fill="#222">Aperture distribution density dV/dlog (ml/g)</text>
<text x="528.7" y="616.2" text-anchor="middle" font-size="14" fill="#222">Aperture (µm)</text>
<text x="439.7" y="658.5" text-anchor="middle" font-size="17" font-weight="bold" fill="#111">(d)</text>
<rect x="217.80" y="699.4" width="129.27" height="226.20000000000005" fill="#d5e7ef"/>
<rect x="347.07" y="699.4" width="33.82" height="226.20000000000005" fill="#ddedd4"/>
<rect x="380.90" y="699.4" width="33.82" height="226.20000000000005" fill="#fbe4c9"/>
<rect x="414.72" y="699.4" width="83.98" height="226.20000000000005" fill="#fdfdcf"/>
<path d="M273.98,699.4V925.6M330.16,699.4V925.6M386.34,699.4V925.6M442.52,699.4V925.6M217.8,869.05H498.7M217.8,812.50H498.7M217.8,755.95H498.7" stroke="#9aa" stroke-opacity="0.45" stroke-width="1" fill="none"/>
<path d="M217.8,925.60h4M217.8,869.05h4M217.8,812.50h4M217.8,755.95h4M217.8,699.40h4M217.80,925.6v-4M273.98,925.6v-4M330.16,925.6v-4M386.34,925.6v-4M442.52,925.6v-4M498.70,925.6v-4M347.07,699.4v4M380.90,699.4v4M414.72,699.4v4" stroke="#444" stroke-width="1.2" fill="none"/>
<path d="M219.3,892.4 L222.8,907.0 L225.8,900.0 L232.2,894.7 L234.5,888.3 L235.1,873.7 L236.9,867.9 L239.4,852.7 L240.6,835.0 L243.9,846.3 L245.6,859.7 L247.6,865.5 L252.0,871.4 L259.6,860.3 L263.7,852.7 L267.8,848.6 L271.9,843.4 L277.1,834.0 L280.1,822.6 L284.8,803.9 L288.7,784.5 L290.6,759.4 L294.8,728.1 L299.7,716.5 L308.7,796.1 L315.4,799.4 L320.5,808.6 L326.9,821.0 L330.0,828.6 L329.6,840.1 L333.5,842.7 L336.5,852.6 L342.7,858.5 L343.4,866.4 L347.0,871.0 L350.6,882.5 L376.2,891.3 L380.6,890.7 L389.6,898.5 L393.7,892.5 L398.4,890.7 L402.4,890.2 L405.9,894.6 L457.1,924.4" stroke="#ff1010" stroke-width="1.4" fill="none" stroke-linejoin="round"/>
<g fill="#ff1010"><circle cx="219.3" cy="892.4" r="2.7"/><circle cx="222.8" cy="907.0" r="2.7"/><circle cx="225.8" cy="900.0" r="2.7"/><circle cx="232.2" cy="894.7" r="2.7"/><circle cx="234.5" cy="888.3" r="2.7"/><circle cx="235.1" cy="873.7" r="2.7"/><circle cx="236.9" cy="867.9" r="2.7"/><circle cx="239.4" cy="852.7" r="2.7"/><circle cx="240.6" cy="835.0" r="2.7"/><circle cx="243.9" cy="846.3" r="2.7"/><circle cx="245.6" cy="859.7" r="2.7"/><circle cx="247.6" cy="865.5" r="2.7"/><circle cx="252.0" cy="871.4" r="2.7"/><circle cx="259.6" cy="860.3" r="2.7"/><circle cx="263.7" cy="852.7" r="2.7"/><circle cx="267.8" cy="848.6" r="2.7"/><circle cx="271.9" cy="843.4" r="2.7"/><circle cx="277.1" cy="834.0" r="2.7"/><circle cx="280.1" cy="822.6" r="2.7"/><circle cx="284.8" cy="803.9" r="2.7"/><circle cx="288.7" cy="784.5" r="2.7"/><circle cx="290.6" cy="759.4" r="2.7"/><circle cx="294.8" cy="728.1" r="2.7"/><circle cx="299.7" cy="716.5" r="2.7"/><circle cx="308.7" cy="796.1" r="2.7"/><circle cx="315.4" cy="799.4" r="2.7"/><circle cx="320.5" cy="808.6" r="2.7"/><circle cx="326.9" cy="821.0" r="2.7"/><circle cx="330.0" cy="828.6" r="2.7"/><circle cx="329.6" cy="840.1" r="2.7"/><circle cx="333.5" cy="842.7" r="2.7"/><circle cx="336.5" cy="852.6" r="2.7"/><circle cx="342.7" cy="858.5" r="2.7"/><circle cx="343.4" cy="866.4" r="2.7"/><circle cx="347.0" cy="871.0" r="2.7"/><circle cx="350.6" cy="882.5" r="2.7"/><circle cx="376.2" cy="891.3" r="2.7"/><circle cx="380.6" cy="890.7" r="2.7"/><circle cx="389.6" cy="898.5" r="2.7"/><circle cx="393.7" cy="892.5" r="2.7"/><circle cx="398.4" cy="890.7" r="2.7"/><circle cx="402.4" cy="890.2" r="2.7"/><circle cx="405.9" cy="894.6" r="2.7"/><circle cx="457.1" cy="924.4" r="2.7"/></g>
<path d="M219.3,893.3 L221.7,898.2 L225.8,894.7 L229.8,890.1 L234.5,883.6 L236.9,874.3 L239.8,866.1 L242.7,846.3 L247.4,855.0 L250.3,864.4 L255.5,860.9 L261.4,858.5 L266.0,855.0 L271.9,849.2 L275.4,842.2 L278.9,836.4 L282.4,828.8 L284.2,813.5 L289.4,789.0 L293.2,779.4 L295.2,765.8 L297.1,738.7 L302.3,733.3 L308.7,754.8 L307.4,771.6 L308.7,786.7 L315.1,810.2 L318.4,826.3 L321.7,841.8 L325.6,853.2 L335.2,878.2 L345.7,893.3 L359.1,900.5 L369.6,907.1 L381.5,911.4 L384.8,912.4 L388.0,909.1 L391.4,910.7 L393.1,915.6 L399.6,917.0 L410.7,920.9 L415.9,922.6 L422.9,924.7 L451.0,924.7" stroke="#10f010" stroke-width="1.4" fill="none" stroke-linejoin="round"/>
<g fill="#10f010"><path d="M219.3,890.2l2.9,5h-5.8z"/><path d="M221.7,895.1l2.9,5h-5.8z"/><path d="M225.8,891.6l2.9,5h-5.8z"/><path d="M229.8,887.0l2.9,5h-5.8z"/><path d="M234.5,880.5l2.9,5h-5.8z"/><path d="M236.9,871.2l2.9,5h-5.8z"/><path d="M239.8,863.0l2.9,5h-5.8z"/><path d="M242.7,843.2l2.9,5h-5.8z"/><path d="M247.4,851.9l2.9,5h-5.8z"/><path d="M250.3,861.3l2.9,5h-5.8z"/><path d="M255.5,857.8l2.9,5h-5.8z"/><path d="M261.4,855.4l2.9,5h-5.8z"/><path d="M266.0,851.9l2.9,5h-5.8z"/><path d="M271.9,846.1l2.9,5h-5.8z"/><path d="M275.4,839.1l2.9,5h-5.8z"/><path d="M278.9,833.3l2.9,5h-5.8z"/><path d="M282.4,825.7l2.9,5h-5.8z"/><path d="M284.2,810.4l2.9,5h-5.8z"/><path d="M289.4,785.9l2.9,5h-5.8z"/><path d="M293.2,776.3l2.9,5h-5.8z"/><path d="M295.2,762.7l2.9,5h-5.8z"/><path d="M297.1,735.6l2.9,5h-5.8z"/><path d="M302.3,730.2l2.9,5h-5.8z"/><path d="M308.7,751.7l2.9,5h-5.8z"/><path d="M307.4,768.5l2.9,5h-5.8z"/><path d="M308.7,783.6l2.9,5h-5.8z"/><path d="M315.1,807.1l2.9,5h-5.8z"/><path d="M318.4,823.2l2.9,5h-5.8z"/><path d="M321.7,838.7l2.9,5h-5.8z"/><path d="M325.6,850.1l2.9,5h-5.8z"/><path d="M335.2,875.1l2.9,5h-5.8z"/><path d="M345.7,890.2l2.9,5h-5.8z"/><path d="M359.1,897.4l2.9,5h-5.8z"/><path d="M369.6,904.0l2.9,5h-5.8z"/><path d="M381.5,908.3l2.9,5h-5.8z"/><path d="M384.8,909.3l2.9,5h-5.8z"/><path d="M388.0,906.0l2.9,5h-5.8z"/><path d="M391.4,907.6l2.9,5h-5.8z"/><path d="M393.1,912.5l2.9,5h-5.8z"/><path d="M399.6,913.9l2.9,5h-5.8z"/><path d="M410.7,917.8l2.9,5h-5.8z"/><path d="M415.9,919.5l2.9,5h-5.8z"/><path d="M422.9,921.6l2.9,5h-5.8z"/><path d="M451.0,921.6l2.9,5h-5.8z"/></g>
<path d="M220.5,889.8 L225.2,886.0 L228.7,883.1 L232.8,880.7 L236.3,878.2 L241.5,879.8 L242.1,850.4 L244.1,870.2 L245.0,879.6 L248.5,872.6 L252.0,869.6 L256.1,867.9 L259.6,867.3 L260.0,863.2 L263.7,863.2 L264.9,859.7 L268.4,855.6 L271.9,853.9 L275.4,848.0 L278.9,842.8 L279.5,835.8 L281.0,829.0 L284.2,814.8 L290.9,803.2 L291.3,784.9 L293.5,761.3 L298.6,745.4 L304.6,756.1 L310.3,791.0 L314.5,831.5 L319.7,867.7 L326.7,880.4 L326.3,891.3 L329.6,890.7 L332.2,895.9 L337.8,898.6 L346.3,906.7 L350.6,910.4 L355.8,912.7 L380.8,919.6 L386.6,920.0 L390.5,923.5 L397.5,923.5 L417.7,925.3 L431.7,924.7 L457.1,924.7" stroke="#1010ff" stroke-width="1.4" fill="none" stroke-linejoin="round"/>
<g fill="#1010ff"><rect x="218.2" y="887.4" width="4.7" height="4.7"/><rect x="222.8" y="883.6" width="4.7" height="4.7"/><rect x="226.3" y="880.8" width="4.7" height="4.7"/><rect x="230.5" y="878.4" width="4.7" height="4.7"/><rect x="234.0" y="875.9" width="4.7" height="4.7"/><rect x="239.2" y="877.4" width="4.7" height="4.7"/><rect x="239.8" y="848.0" width="4.7" height="4.7"/><rect x="241.8" y="867.9" width="4.7" height="4.7"/><rect x="242.7" y="877.2" width="4.7" height="4.7"/><rect x="246.2" y="870.2" width="4.7" height="4.7"/><rect x="249.7" y="867.2" width="4.7" height="4.7"/><rect x="253.8" y="865.5" width="4.7" height="4.7"/><rect x="257.2" y="864.9" width="4.7" height="4.7"/><rect x="257.6" y="860.9" width="4.7" height="4.7"/><rect x="261.3" y="860.9" width="4.7" height="4.7"/><rect x="262.5" y="857.4" width="4.7" height="4.7"/><rect x="266.0" y="853.2" width="4.7" height="4.7"/><rect x="269.5" y="851.5" width="4.7" height="4.7"/><rect x="273.0" y="845.6" width="4.7" height="4.7"/><rect x="276.5" y="840.4" width="4.7" height="4.7"/><rect x="277.1" y="833.4" width="4.7" height="4.7"/><rect x="278.6" y="826.6" width="4.7" height="4.7"/><rect x="281.8" y="812.4" width="4.7" height="4.7"/><rect x="288.5" y="800.9" width="4.7" height="4.7"/><rect x="288.9" y="782.5" width="4.7" height="4.7"/><rect x="291.1" y="758.9" width="4.7" height="4.7"/><rect x="296.2" y="743.0" width="4.7" height="4.7"/><rect x="302.2" y="753.8" width="4.7" height="4.7"/><rect x="307.9" y="788.6" width="4.7" height="4.7"/><rect x="312.1" y="829.1" width="4.7" height="4.7"/><rect x="317.3" y="865.4" width="4.7" height="4.7"/><rect x="324.3" y="878.0" width="4.7" height="4.7"/><rect x="323.9" y="888.9" width="4.7" height="4.7"/><rect x="327.2" y="888.4" width="4.7" height="4.7"/><rect x="329.8" y="893.5" width="4.7" height="4.7"/><rect x="335.4" y="896.2" width="4.7" height="4.7"/><rect x="343.9" y="904.4" width="4.7" height="4.7"/><rect x="348.2" y="908.0" width="4.7" height="4.7"/><rect x="353.4" y="910.4" width="4.7" height="4.7"/><rect x="378.4" y="917.2" width="4.7" height="4.7"/><rect x="384.2" y="917.6" width="4.7" height="4.7"/><rect x="388.1" y="921.1" width="4.7" height="4.7"/><rect x="395.1" y="921.1" width="4.7" height="4.7"/><rect x="415.3" y="922.9" width="4.7" height="4.7"/><rect x="429.3" y="922.4" width="4.7" height="4.7"/><rect x="454.8" y="922.4" width="4.7" height="4.7"/></g>
<rect x="217.8" y="699.4" width="280.9" height="226.20000000000005" fill="none" stroke="#555a55" stroke-width="1.5"/>
<circle cx="299.7" cy="716.5" r="4.2" fill="#000"/>
<circle cx="302.3" cy="733.3" r="4.2" fill="#000"/>
<circle cx="298.6" cy="745.4" r="4.2" fill="#000"/>
<text x="305.5" y="719.7" font-size="11.7" fill="#222">(0.30 µm, 0.18 ml/g)</text>
<text x="309.2" y="736.2" font-size="11.7" fill="#222">(0.31 µm, 0.16 ml/g)</text>
<text x="308.3" y="751.0" font-size="11.7" fill="#222">(0.28 µm, 0.15 ml/g)</text>
<rect x="227.4" y="718.5" width="57.9" height="15.9" fill="#fff" stroke="#999" stroke-width="0.8"/>
<text x="256.4" y="730.5" text-anchor="middle" font-size="11.6" fill="#111">Micropores</text>
<rect x="428.6" y="719.2" width="59.1" height="16" fill="#fff" stroke="#999" stroke-width="0.8"/>
<text x="458.2" y="731.2" text-anchor="middle" font-size="11.6" fill="#111">Macropores</text>
<rect x="357.2" y="814.5" width="16.4" height="58.8" fill="#fff" stroke="#999" stroke-width="0.8"/>
<text x="0" y="0" transform="translate(369.4,843.9) rotate(-90)" text-anchor="middle" font-size="11.6" fill="#111">Small pores</text>
<rect x="388.8" y="815.4" width="16.1" height="54.3" fill="#fff" stroke="#999" stroke-width="0.8"/>
<text x="0" y="0" transform="translate(400.9,842.5) rotate(-90)" text-anchor="middle" font-size="11.6" fill="#111">Mesopores</text>
<rect x="424.3" y="852.6" width="68.2" height="42" fill="#fff" stroke="#bbb" stroke-width="0.8"/>
<path d="M424.3,859.1H451.3" stroke="#ff1010" stroke-width="1.3"/>
<circle cx="437.7" cy="859.1" r="2.5" fill="#ff1010"/>
<text x="454.1" y="864.1" font-size="11.9" fill="#222">100 kPa</text>
<path d="M424.3,873.3H451.3" stroke="#10f010" stroke-width="1.3"/>
<path d="M437.7,870.4l2.7,4.6h-5.4z" fill="#10f010"/>
<text x="454.1" y="878.3" font-size="11.9" fill="#222">200 kPa</text>
<path d="M424.3,887.5H451.3" stroke="#1010ff" stroke-width="1.3"/>
<rect x="435.5" y="885.3" width="4.4" height="4.4" fill="#1010ff"/>
<text x="454.1" y="892.5" font-size="11.9" fill="#222">400 kPa</text>
<path d="M284.6,749.1L260.6,811.5M265.6,807.0L260.6,811.5L260.0,804.8" stroke="#222" stroke-width="1" fill="none"/>
<text x="0" y="0" transform="translate(265.5,780.4) rotate(-67.5)" text-anchor="middle" font-size="12" font-style="italic" fill="#222">Shift to finer pores</text>
<text x="228.1" y="711.7" font-size="14" font-weight="bold" fill="#222">e</text>
<text x="212.8" y="929.9" text-anchor="end" font-size="12.6" fill="#222">0.00</text>
<text x="212.8" y="873.3" text-anchor="end" font-size="12.6" fill="#222">0.05</text>
<text x="212.8" y="816.8" text-anchor="end" font-size="12.6" fill="#222">0.10</text>
<text x="212.8" y="760.2" text-anchor="end" font-size="12.6" fill="#222">0.15</text>
<text x="212.8" y="703.7" text-anchor="end" font-size="12.6" fill="#222">0.20</text>
<text x="217.8" y="940.6" text-anchor="middle" font-size="12.2" fill="#222">0.01</text>
<text x="274.0" y="940.6" text-anchor="middle" font-size="12.2" fill="#222">0.1</text>
<text x="330.2" y="940.6" text-anchor="middle" font-size="12.2" fill="#222">1</text>
<text x="386.3" y="940.6" text-anchor="middle" font-size="12.2" fill="#222">10</text>
<text x="442.5" y="940.6" text-anchor="middle" font-size="12.2" fill="#222">100</text>
<text x="498.7" y="940.6" text-anchor="middle" font-size="12.2" fill="#222">1000</text>
<text x="347.1" y="696.2" text-anchor="middle" font-size="12.2" fill="#222">2</text>
<text x="380.9" y="696.2" text-anchor="middle" font-size="12.2" fill="#222">8</text>
<text x="414.7" y="696.2" text-anchor="middle" font-size="12.2" fill="#222">32</text>
<text x="0" y="0" transform="translate(185.2,812.5) rotate(-90)" text-anchor="middle" font-size="13.9" fill="#222">Aperture distribution density dV/dlog (ml/g)</text>
<text x="358.8" y="958.9" text-anchor="middle" font-size="14" fill="#222">Aperture (µm)</text>
<text x="342.1" y="999.8" text-anchor="middle" font-size="17" font-weight="bold" fill="#111">(e)</text>
</svg></body></html>
